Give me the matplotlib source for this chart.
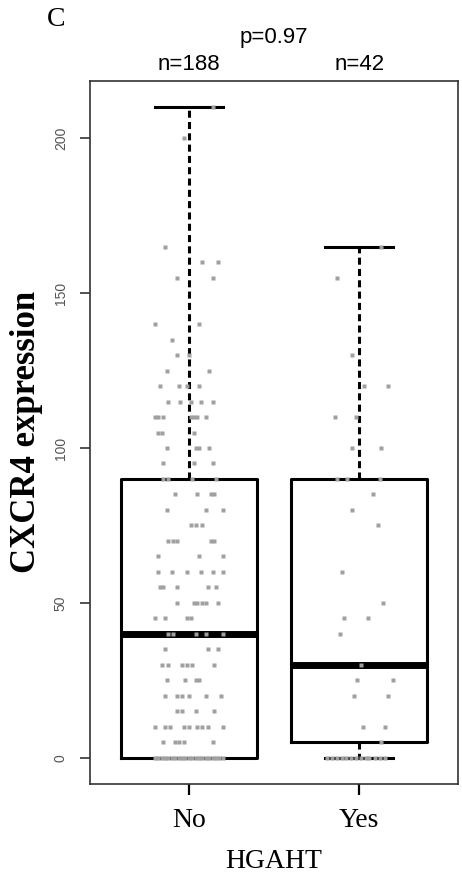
import numpy as np
import matplotlib
matplotlib.use('Agg')
import matplotlib.pyplot as plt

groups = ['No', 'Yes']
n_counts = [188, 42]
p_value = 0.97

# box summaries per group
whisker_low = [0, 0]
q1 = [0, 5]
medians = [40, 30]
q3 = [90, 90]
whisker_high = [210, 165]

# HGAHT = No : expression values and their horizontal jitter
no_values = [210, 200, 165, 160, 160, 155, 155, 140, 140, 135, 130, 130,
             125, 125, 120, 120, 120, 120, 115, 115, 115, 115, 115,
             110, 110, 110, 110, 110, 110, 110, 105, 105, 105,
             100, 100, 100, 100, 95, 95, 95, 90, 90, 90, 90,
             85, 85, 85, 85, 80, 80, 80, 75, 75, 75,
             70, 70, 70, 70, 70, 65, 65, 65, 60, 60, 60, 60, 60, 60,
             55, 55, 55, 55, 55, 50, 50, 50, 50, 50, 50,
             45, 45, 45, 45, 40, 40, 40, 40, 40, 35, 35, 35,
             30, 30, 30, 30, 30, 30, 25, 25, 25, 25,
             20, 20, 20, 20, 20, 20, 15, 15, 15, 15,
             10, 10, 10, 10, 10, 10, 10, 10, 10, 5, 5, 5, 5, 5,
             0, 0, 0, 0, 0, 0, 0, 0, 0, 0, 0, 0, 0, 0, 0, 0, 0, 0, 0, 0, 0]
no_jitter = [0.14, -0.03, -0.14, 0.08, 0.17, -0.07, 0.14, -0.20, 0.06, -0.10, -0.07, 0.00,
             -0.13, 0.12, -0.17, -0.06, -0.01, 0.06, -0.12, -0.05, 0.01, 0.07, 0.14,
             -0.20, -0.18, -0.15, 0.01, 0.03, 0.05, 0.10, -0.18, -0.16, 0.03,
             -0.13, 0.04, 0.06, 0.12, -0.15, 0.03, 0.14, -0.15, -0.12, 0.02, 0.16,
             -0.08, 0.05, 0.13, 0.15, -0.13, 0.10, 0.20, 0.01, 0.04, 0.08,
             -0.12, -0.09, -0.07, 0.13, 0.15, -0.18, 0.06, 0.20, -0.18, -0.10, -0.01, 0.07, 0.14, 0.20,
             -0.17, -0.15, -0.07, 0.11, 0.16, -0.07, 0.03, 0.05, 0.08, 0.10, 0.17,
             -0.20, -0.14, -0.01, 0.01, -0.12, -0.09, 0.04, 0.10, 0.20, -0.14, 0.11, 0.17,
             -0.16, -0.12, -0.04, -0.01, 0.02, 0.15, -0.13, -0.02, 0.04, 0.06,
             -0.14, -0.07, -0.04, 0.00, 0.10, 0.19, -0.07, -0.04, 0.04, 0.15,
             -0.20, -0.14, -0.11, -0.03, 0.00, 0.05, 0.08, 0.11, 0.20, -0.15, -0.08, -0.06, -0.03, 0.14,
             -0.20, -0.18, -0.16, -0.14, -0.12, -0.10, -0.08, -0.06, -0.04, -0.02, 0.00,
             0.02, 0.04, 0.06, 0.08, 0.10, 0.12, 0.14, 0.16, 0.18, 0.20]

# HGAHT = Yes
yes_values = [165, 155, 130, 120, 120, 110, 110, 100, 100, 90, 90, 90, 85, 80, 75,
              60, 50, 45, 45, 40, 30, 25, 25, 20, 20, 10, 10, 5,
              0, 0, 0, 0, 0, 0, 0, 0, 0, 0, 0, 0, 0]
yes_jitter = [0.13, -0.13, -0.04, 0.03, 0.17, -0.14, -0.02, -0.04, 0.13, -0.13, -0.07, 0.12, 0.08, -0.04, 0.11,
              -0.10, 0.14, -0.09, 0.05, -0.11, 0.01, -0.01, 0.20, -0.03, 0.17, 0.02, 0.15, 0.13,
              -0.19, -0.16, -0.13, -0.10, -0.08, -0.05, -0.02, 0.01, 0.04, 0.06, 0.09, 0.12, 0.15]

W, H = 462, 877
fig = plt.figure(figsize=(W / 100, H / 100), dpi=100)
ax = fig.add_axes([90 / W, 93 / H, 368 / W, 703 / H])

positions = [1, 2]
stats = []
for i in range(len(groups)):
    stats.append(dict(med=medians[i], q1=q1[i], q3=q3[i],
                      whislo=whisker_low[i], whishi=whisker_high[i], fliers=[]))

ax.bxp(stats, positions=positions, widths=0.8, capwidths=0.4, showfliers=False,
       boxprops=dict(color='black', linewidth=2.2),
       medianprops=dict(color='black', linewidth=5, solid_capstyle='butt'),
       whiskerprops=dict(color='black', linewidth=2.2, linestyle=(0, (2.3, 1.4))),
       capprops=dict(color='black', linewidth=2.2))

# jittered samples on top of the boxes
ax.plot(positions[0] + np.array(no_jitter), no_values, 's', ms=2.8,
        color='#a0a0a0', mec='none', zorder=5)
ax.plot(positions[1] + np.array(yes_jitter), yes_values, 's', ms=2.8,
        color='#a0a0a0', mec='none', zorder=5)

ax.set_xlim(0.42, 2.58)
ax.set_ylim(-8.4, 218.4)

for s in ax.spines.values():
    s.set_linewidth(1.2)
    s.set_color('#333333')

ax.set_yticks([0, 50, 100, 150, 200])
ax.set_yticklabels(['0', '50', '100', '150', '200'], rotation=90, va='center',
                   fontsize=10, color='#555555', family='Liberation Sans')
ax.tick_params(axis='y', length=7, width=1.2, color='#333333', pad=9)

ax.set_xticks(positions)
ax.set_xticklabels(groups, family='Liberation Serif', fontsize=20)
ax.tick_params(axis='x', length=8, width=1.6, color='black', pad=9)

# annotations above the plot
xt = ax.get_xaxis_transform()
for i in range(len(groups)):
    ax.text(positions[i], 1.023, 'n=%d' % n_counts[i], transform=xt, ha='center',
            va='center', fontsize=16, family='Liberation Sans')
ax.text(1.5, 1.062, 'p=%.2f' % p_value, transform=xt, ha='center', va='center',
        fontsize=16, family='Liberation Sans')

fig.text(56 / W, 1 - 19 / H, 'C', family='Liberation Serif', fontsize=20,
         ha='center', va='center')
fig.text(27 / W, 1 - 432 / H, 'CXCR4 expression', family='Liberation Serif',
         fontsize=25, fontweight='bold', rotation=90, ha='center', va='center')
fig.text(274 / W, 1 - 862 / H, 'HGAHT', family='Liberation Serif', fontsize=20,
         ha='center', va='center')

fig.savefig('out.png', dpi=100)
